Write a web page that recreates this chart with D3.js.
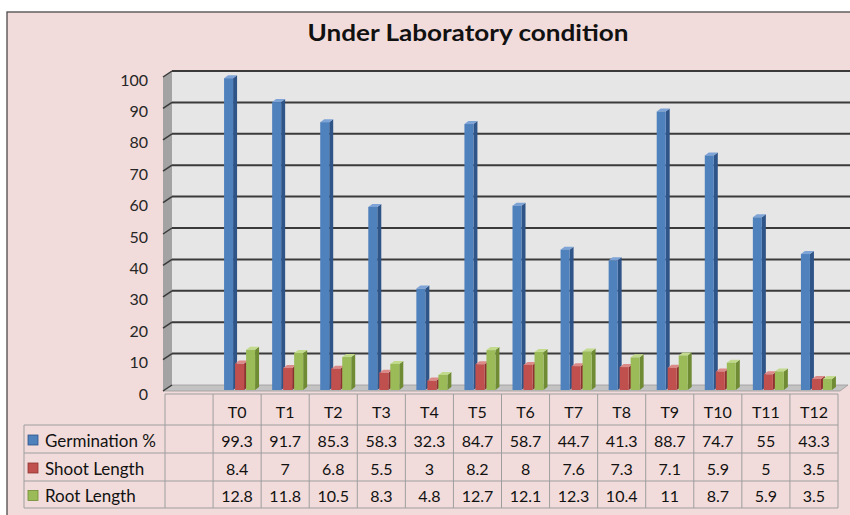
<!DOCTYPE html>
<html><head><meta charset="utf-8">
<script src="https://cdn.jsdelivr.net/npm/d3@7"></script>
<style>
html,body{margin:0;padding:0;background:#fff;}
text{font-family:Lato,"Open Sans",sans-serif;}
</style></head>
<body><svg id="c" width="850" height="515"></svg>
<script>
const title = "Under Laboratory condition";
const categories = ["T0","T1","T2","T3","T4","T5","T6","T7","T8","T9","T10","T11","T12"];
const seriesNames = ["Germination %","Shoot Length","Root Length"];
const germination = [99.3,91.7,85.3,58.3,32.3,84.7,58.7,44.7,41.3,88.7,74.7,55,43.3];
const shootLength = [8.4,7,6.8,5.5,3,8.2,8,7.6,7.3,7.1,5.9,5,3.5];
const rootLength = [12.8,11.8,10.5,8.3,4.8,12.7,12.1,12.3,10.4,11,8.7,5.9,3.5];
const yTicks = [0,10,20,30,40,50,60,70,80,90,100];
const seriesValues = [germination, shootLength, rootLength];
const colors = [
  {front:"#4f81bd", side:"#2f5488", top:"#7ea3d6"},
  {front:"#c0504d", side:"#8e3230", top:"#dc8a87"},
  {front:"#9bbb59", side:"#6f8c34", top:"#c2da8c"}
];

const svg = d3.select("#c");
svg.append("rect").attr("x",7).attr("y",12).attr("width",860).attr("height",520)
  .attr("fill","#f2dcdb").attr("stroke","#4a4a4a").attr("stroke-width",1.3);

svg.append("text").attr("x",468).attr("y",41).attr("text-anchor","middle")
  .attr("font-size",23).attr("font-weight","bold").attr("fill","#111")
  .attr("textLength",321).attr("lengthAdjust","spacingAndGlyphs").text(title);

const DX = 9, DY = -6;
const y = d3.scaleLinear().domain([0,100]).range([391,77]);
const x = d3.scaleBand().domain(["", ...categories]).range([165,838]);
const sub = d3.scaleBand().domain(seriesNames).range([11,44]);

const leftX = 163;
svg.append("rect").attr("x",leftX+DX).attr("y",y(100)+DY).attr("width",850-(leftX+DX)).attr("height",y(0)-y(100))
  .attr("fill","#e6e6e6");
svg.append("path").attr("d",`M${leftX},${y(100)}L${leftX+DX},${y(100)+DY}L${leftX+DX},${y(0)+DY}L${leftX},${y(0)}Z`)
  .attr("fill","#a3a3a3");
svg.append("path").attr("d",`M${leftX},${y(0)}L${leftX+DX},${y(0)+DY}L848,${y(0)+DY}L840,${y(0)}Z`)
  .attr("fill","#c3c3c3").attr("stroke","#9a9a9a").attr("stroke-width",0.8);

yTicks.forEach(t=>{
  const yb = y(t)+DY;
  if (t>0) svg.append("line").attr("x1",leftX+DX).attr("x2",850).attr("y1",yb).attr("y2",yb)
    .attr("stroke","#3a3a3a").attr("stroke-width",2);
  svg.append("line").attr("x1",leftX).attr("y1",y(t)).attr("x2",leftX+DX).attr("y2",yb)
    .attr("stroke","#3a3a3a").attr("stroke-width",1.5);
  svg.append("text").attr("x",148).attr("y",y(t)+2).attr("text-anchor","end")
    .attr("dominant-baseline","central").attr("font-size",16).attr("fill","#262626").text(t);
});

const bw = 9, bdx = 4, bdy = -3;
categories.forEach((c,i)=>{
  seriesNames.forEach((s,k)=>{
    const v = seriesValues[k][i];
    const x0 = x(c)+sub(s);
    const y0 = y(0)-1, y1 = y(v)-1;
    const g = svg.append("g");
    g.append("path").attr("d",`M${x0+bw},${y1}L${x0+bw+bdx},${y1+bdy}L${x0+bw+bdx},${y0+bdy}L${x0+bw},${y0}Z`).attr("fill",colors[k].side);
    g.append("path").attr("d",`M${x0},${y1}L${x0+bdx},${y1+bdy}L${x0+bw+bdx},${y1+bdy}L${x0+bw},${y1}Z`).attr("fill",colors[k].top);
    g.append("rect").attr("x",x0).attr("y",y1).attr("width",bw).attr("height",y0-y1).attr("fill",colors[k].front);
  });
});

const tableTop = 394, rowY = [425,453,481,508];
const gridC = "#9e9e9e";
const tb = svg.append("g");
tb.append("line").attr("x1",165).attr("x2",838).attr("y1",tableTop).attr("y2",tableTop).attr("stroke",gridC);
rowY.forEach(r=>tb.append("line").attr("x1",24).attr("x2",838).attr("y1",r).attr("y2",r).attr("stroke",gridC));
tb.append("line").attr("x1",24).attr("x2",24).attr("y1",rowY[0]).attr("y2",rowY[3]).attr("stroke",gridC);
x.domain().forEach(c=>tb.append("line").attr("x1",x(c)).attr("x2",x(c)).attr("y1",tableTop).attr("y2",rowY[3]).attr("stroke",gridC));
tb.append("line").attr("x1",838).attr("x2",838).attr("y1",tableTop).attr("y2",rowY[3]).attr("stroke",gridC);
categories.forEach(c=>tb.append("text").attr("x",x(c)+x.bandwidth()/2).attr("y",(tableTop+rowY[0])/2+2)
  .attr("text-anchor","middle").attr("dominant-baseline","central").attr("font-size",16).attr("fill","#111").text(c));
seriesNames.forEach((s,k)=>{
  const top = rowY[k], bot = rowY[k+1], cy=(top+bot)/2+1;
  tb.append("rect").attr("x",28).attr("y",cy-5).attr("width",10).attr("height",10)
    .attr("fill",colors[k].front).attr("stroke",colors[k].side).attr("stroke-width",0.8);
  tb.append("text").attr("x",45).attr("y",cy).attr("dominant-baseline","central").attr("font-size",17).attr("fill","#111").text(s);
  categories.forEach((c,i)=>tb.append("text").attr("x",x(c)+x.bandwidth()/2).attr("y",cy)
    .attr("text-anchor","middle").attr("dominant-baseline","central").attr("font-size",16).attr("fill","#111").text(seriesValues[k][i]));
});
</script></body></html>
